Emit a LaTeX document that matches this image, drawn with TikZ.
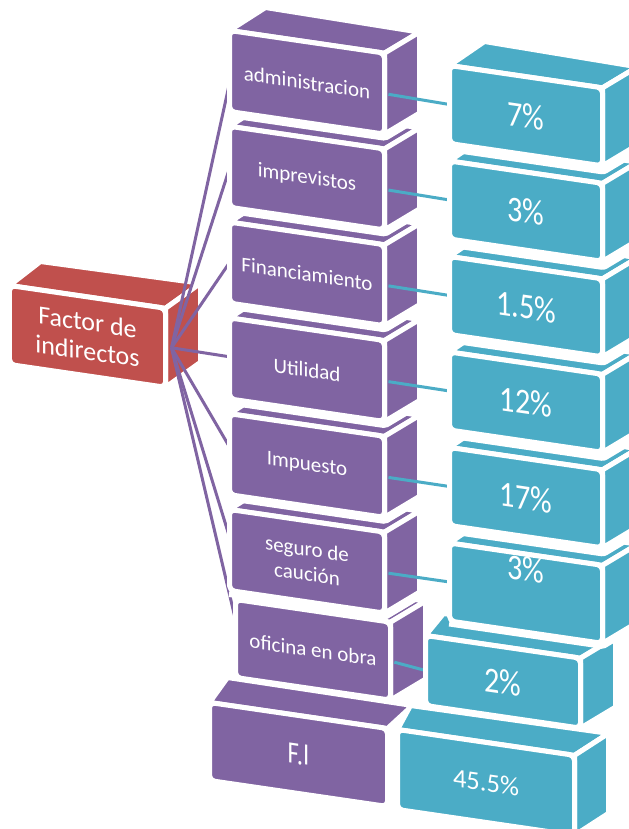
\documentclass[tikz,border=0pt]{standalone}
\usepackage{fontspec}
\usepackage{graphicx}
\setmainfont{Carlito}
\usetikzlibrary{calc}
\definecolor{boxpurple}{HTML}{8064A2}
\definecolor{boxteal}{HTML}{4BACC6}
\definecolor{boxred}{HTML}{C0504D}
\pgfdeclarelayer{bg}
\pgfdeclarelayer{mid}
\pgfdeclarelayer{top}
\pgfsetlayers{bg,main,mid,top}

% slope of the box fronts (they lean down to the right)
\newcommand\slopeval{0.146}
% horizontally condensed text
\newcommand\narrowtext[2]{\scalebox{#1}[1]{#2}}
% a 3D block: name, {x,y} (visible top-left of the front), width, height,
% depth vector at the left, depth vector at the right, style,
% extra white margin under the block, text
\newcommand\cubebox[9]{%
  \begin{scope}[shift={(#2)},shift={(-2.5,-2.5)}]
    \pgfmathsetmacro\cubew{#3+5}%
    \pgfmathsetmacro\cubeh{#4+5}%
    \pgfmathsetmacro\cubes{\slopeval*\cubew}%
    \pgfmathsetmacro\cubeband{5+2*#8}%
    \draw[white,line width=\cubeband bp,line join=round]
      (0,\cubeh) -- (\cubew,\cubes+\cubeh) -- ++(#6);
    \path[cubeface,#7] (0,0) -- (\cubew,\cubes) -- ++(#6) -- (#5) -- cycle;
    \path[cubeface,#7,rightface] (\cubew,\cubes) -- ++(#6) -- ++(0,\cubeh)
      -- (\cubew,\cubes+\cubeh) -- cycle;
    \node[cubefront,#7,yslant=-\slopeval,minimum width=\cubew bp,
      minimum height=\cubeh bp] (#1) at (\cubew/2,\cubes/2+\cubeh/2) {#9};
  \end{scope}}

\begin{document}
\begin{tikzpicture}[x=1bp,y=-1bp,
  cubeface/.style={draw=white,line width=5bp,line join=round},
  cubefront/.style={cubeface,rounded corners=5bp,inner sep=0pt,outer sep=0pt,
    text=white,align=center},
  rightface/.style={},
  purplebox/.style={fill=boxpurple,font=\fontsize{21bp}{25bp}\selectfont},
  tealbox/.style={fill=boxteal,font=\fontsize{36bp}{40bp}\selectfont},
  totalbox/.style={fill=boxteal,font=\fontsize{26.5bp}{30bp}\selectfont},
  fibox/.style={fill=boxpurple,font=\fontsize{31bp}{34bp}\selectfont,
    rightface/.style={draw=none,fill=none}},
  redbox/.style={fill=boxred,font=\fontsize{26bp}{29bp}\selectfont},
  purpleline/.style={draw=boxpurple,line width=3bp},
  tealline/.style={draw=boxteal,line width=3bp,shorten <=4bp}]
\useasboundingbox (0,0) rectangle (629,829);

% background and root block
\begin{pgfonlayer}{bg}
  \fill[white] (0,0) rectangle (629,829);
  \cubebox{factor}{12,288}{151}{74}{31,-24}{35,-25}{redbox}{0}{Factor de\\indirectos}
  \coordinate (hub) at ($(factor.east)+(6,0)$);
\end{pgfonlayer}

% concept column, drawn from the bottom up
\cubebox{fi}{212,705}{173}{73}{18,-25}{25,-23}{fibox}{0}{\narrowtext{0.8}{F.I}}
\cubebox{oficina}{238,602}{150}{73}{36,-23}{35,-21}{purplebox}{0}{oficina en obra}
\cubebox{seguro}{232,512}{150}{76}{36,-23}{35,-21}{purplebox}{4}{seguro de\\caución}
\cubebox{impuesto}{232,416.2}{150}{76}{36,-23}{35,-21}{purplebox}{4}{Impuesto}
\cubebox{utilidad}{232,320.4}{150}{76}{36,-23}{35,-21}{purplebox}{4}{Utilidad}
\cubebox{financ}{232,224.6}{150}{76}{36,-23}{35,-21}{purplebox}{4}{Financiamiento}
\cubebox{impr}{232,128.8}{150}{76}{36,-23}{35,-21}{purplebox}{4}{imprevistos}
\cubebox{admin}{232,33}{150}{76}{36,-23}{35,-21}{purplebox}{4}{administracion}

% percentage column, drawn from the bottom up
\begin{pgfonlayer}{top}
  \cubebox{total}{400,732}{172}{75}{13,-24}{34,-22}{totalbox}{0}{45.5\%}
  \cubebox{pcofi}{428,638}{150}{65}{18,-22}{35,-21}{tealbox}{0}{\narrowtext{0.84}{2\%}}
  \cubebox{pcseg}{452,545.5}{148}{73}{35,-24}{35,-21}{tealbox}{3}%
    {\raisebox{24bp}[\height][\depth]{\narrowtext{0.84}{3\%}}}
  \cubebox{pcimp}{452,450}{148}{73}{35,-24}{35,-21}{tealbox}{6}{\narrowtext{0.84}{17\%}}
  \cubebox{pcuti}{452,354.5}{148}{73}{35,-24}{35,-21}{tealbox}{6}{\narrowtext{0.84}{12\%}}
  \cubebox{pcfin}{452,259}{148}{73}{35,-24}{35,-21}{tealbox}{6}{\narrowtext{0.84}{1.5\%}}
  \cubebox{pcimpr}{452,163.5}{148}{73}{35,-24}{35,-21}{tealbox}{6}{\narrowtext{0.84}{3\%}}
  \cubebox{pcadm}{452,68}{148}{73}{35,-24}{35,-21}{tealbox}{6}{\narrowtext{0.84}{7\%}}
\end{pgfonlayer}

% fan of connectors from the root block
\begin{pgfonlayer}{bg}
  \foreach \n/\f in {admin/0.65,impr/0.52,financ/0.5,utilidad/0.48,
                     impuesto/0.41,seguro/0.34,oficina/0.26}
    \draw[purpleline] (hub) -- ($(\n.north west)!\f!(\n.south west)$);
\end{pgfonlayer}

% links between concepts and percentages
\begin{pgfonlayer}{mid}
  \foreach \a/\b in {admin/pcadm,impr/pcimpr,financ/pcfin,utilidad/pcuti,
                     impuesto/pcimp,seguro/pcseg,oficina/pcofi}
    \draw[tealline] (\a.east) -- (\b.west);
\end{pgfonlayer}
\end{tikzpicture}
\end{document}
